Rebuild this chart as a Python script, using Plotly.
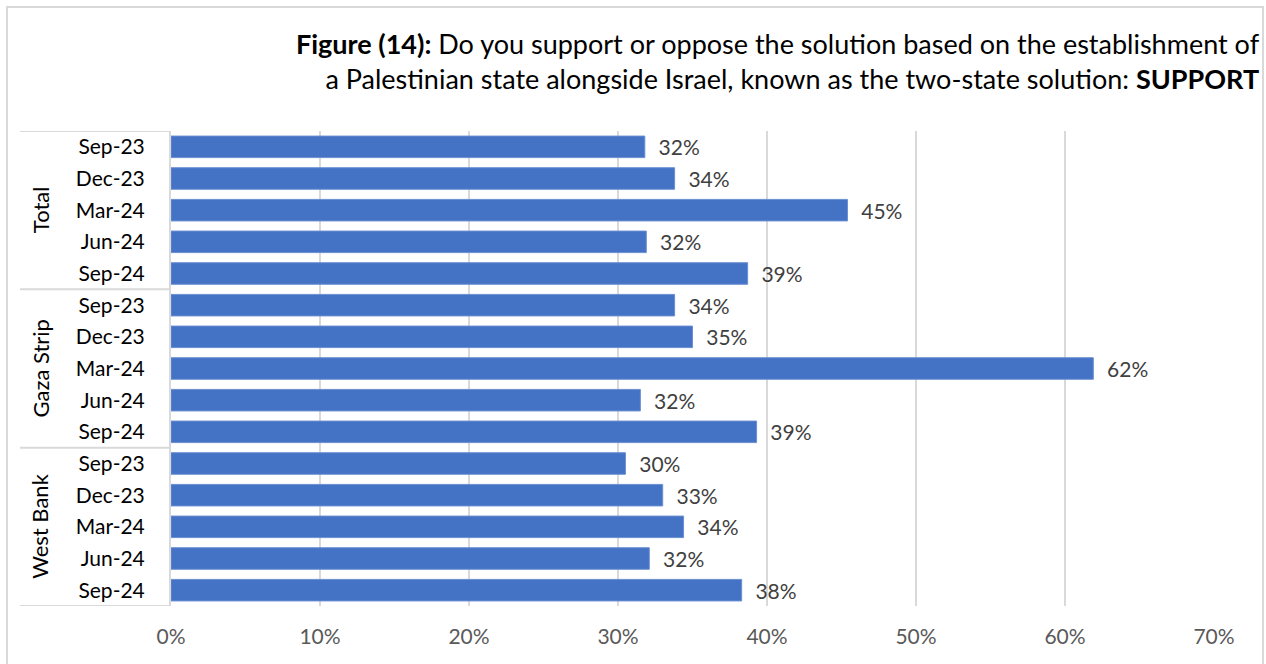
import plotly.graph_objects as go

groups = ["Total", "Gaza Strip", "West Bank"]
periods = ["Sep-23", "Dec-23", "Mar-24", "Jun-24", "Sep-24"]

total_vals = [31.8, 33.8, 45.4, 31.9, 38.7]
gaza_vals = [33.8, 35.0, 61.9, 31.5, 39.3]
westbank_vals = [30.5, 33.0, 34.4, 32.1, 38.3]

total_labels = ["32%", "34%", "45%", "32%", "39%"]
gaza_labels = ["34%", "35%", "62%", "32%", "39%"]
westbank_labels = ["30%", "33%", "34%", "32%", "38%"]

x_ticks = [0, 10, 20, 30, 40, 50, 60, 70]
x_tick_labels = ["0%", "10%", "20%", "30%", "40%", "50%", "60%", "70%"]

values = total_vals + gaza_vals + westbank_vals
labels = total_labels + gaza_labels + westbank_labels
ticktext = periods * 3
ypos = list(range(len(values)))

FONT = "Lato"
W, H = 1266, 664
L, R, T, B = 171, 52, 131, 58
pw = W - L - R
ph = H - T - B

def px(x):
    return (x - L) / pw

def py(y):
    return (H - B - y) / ph

fig = go.Figure()
fig.add_trace(go.Bar(
    x=values, y=ypos, orientation="h",
    marker=dict(color="#4472c4", line=dict(color="#6a8fd2", width=1)),
    text=["\u00a0\u00a0" + t for t in labels],
    textposition="outside",
    constraintext="none",
    textfont=dict(family=FONT, size=21, color="#404040"),
    cliponaxis=False,
    width=0.68,
    hoverinfo="skip",
))

shapes = []
for b in [-0.5, 4.5, 9.5, 14.5]:
    shapes.append(dict(type="line", xref="paper", yref="y", x0=px(20), x1=0,
                       y0=b, y1=b, line=dict(color="#d9d9d9", width=2)))
shapes.append(dict(type="rect", xref="paper", yref="paper",
                   x0=px(7), x1=px(1263), y0=py(672), y1=py(7),
                   line=dict(color="#d9d9d9", width=2), fillcolor="rgba(0,0,0,0)",
                   layer="below"))

annotations = []
for i, g in enumerate(groups):
    annotations.append(dict(text=g, xref="paper", yref="y", x=px(40), y=i * 5 + 2,
                            textangle=-90, showarrow=False, xanchor="center",
                            yanchor="middle",
                            font=dict(family=FONT, size=22, color="#000000")))
annotations.append(dict(
    text="<b>Figure (14):</b> Do you support or oppose the solution based on the establishment of<br>"
         "a Palestinian state alongside Israel, known as the two-state solution: <b>SUPPORT</b>",
    xref="paper", yref="paper", x=px(1262), y=py(61), xanchor="right", yanchor="middle",
    align="right", showarrow=False,
    font=dict(family=FONT, size=27, color="#000000")))

fig.update_layout(
    width=W, height=H,
    margin=dict(l=L, r=R, t=T, b=B),
    paper_bgcolor="white", plot_bgcolor="white",
    showlegend=False,
    shapes=shapes,
    annotations=annotations,
    xaxis=dict(range=[0, 70], tickvals=x_ticks, ticktext=x_tick_labels,
               showgrid=True, gridcolor="#d9d9d9", gridwidth=2,
               zeroline=False, showline=False,
               tickfont=dict(family=FONT, size=21, color="#595959"),
               ticks="", ticklabelstandoff=16, fixedrange=True),
    yaxis=dict(range=[14.5, -0.5], tickvals=ypos, ticktext=ticktext,
               showgrid=False, zeroline=False,
               showline=True, linecolor="#d9d9d9", linewidth=2,
               tickfont=dict(family=FONT, size=21, color="#000000"),
               ticks="", ticklabelstandoff=20, fixedrange=True),
)

fig.write_html("out.html", config={"displayModeBar": False},
               post_script="document.body.style.margin='0';document.body.style.overflow='hidden';")
